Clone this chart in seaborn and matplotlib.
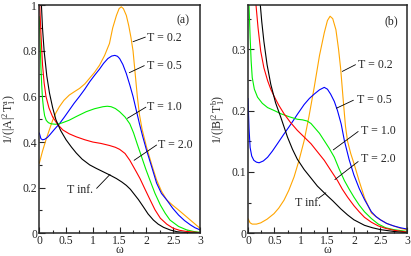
import numpy as np
import pandas as pd
import seaborn as sns
import matplotlib
matplotlib.use('Agg')
import matplotlib.pyplot as plt
from matplotlib.ticker import MultipleLocator, FuncFormatter

# panel (a): 1/(|A|^2 T1^a)
a_w_02 = [0, 0.06, 0.125, 0.19, 0.25, 0.31, 0.375, 0.46, 0.56, 0.65, 0.75, 0.85, 0.94, 1.03, 1.125, 1.22, 1.31, 1.37, 1.44, 1.49, 1.53, 1.57, 1.625, 1.67, 1.71, 1.75, 1.79, 1.83, 1.87, 1.92, 2.0, 2.1, 2.19, 2.28, 2.38, 2.49, 2.6, 2.71, 2.82, 2.91, 3.0]
a_v_02 = [0.307, 0.36, 0.41, 0.455, 0.496, 0.528, 0.555, 0.583, 0.606, 0.62, 0.635, 0.655, 0.68, 0.705, 0.737, 0.78, 0.832, 0.90, 0.955, 0.985, 0.993, 0.985, 0.955, 0.91, 0.86, 0.80, 0.70, 0.60, 0.52, 0.455, 0.38, 0.30, 0.234, 0.185, 0.146, 0.123, 0.102, 0.08, 0.058, 0.04, 0.022]
a_w_05 = [0, 0.03, 0.06, 0.1, 0.15, 0.19, 0.28, 0.375, 0.47, 0.56, 0.65, 0.75, 0.85, 0.94, 1.03, 1.125, 1.2, 1.28, 1.35, 1.41, 1.46, 1.5, 1.56, 1.625, 1.69, 1.75, 1.81, 1.87, 1.93, 2.0, 2.1, 2.19, 2.28, 2.38, 2.49, 2.6, 2.71, 2.82, 2.91, 3.0]
a_v_05 = [0.44, 0.415, 0.41, 0.412, 0.42, 0.43, 0.455, 0.48, 0.51, 0.54, 0.57, 0.60, 0.632, 0.664, 0.692, 0.72, 0.745, 0.766, 0.777, 0.78, 0.776, 0.766, 0.74, 0.70, 0.65, 0.60, 0.54, 0.48, 0.425, 0.366, 0.29, 0.22, 0.175, 0.146, 0.11, 0.08, 0.056, 0.037, 0.024, 0.015]
a_w_10 = [0, 0.015, 0.03, 0.045, 0.06, 0.08, 0.1, 0.13, 0.17, 0.22, 0.3, 0.375, 0.46, 0.56, 0.7, 0.875, 1.03, 1.19, 1.27, 1.34, 1.42, 1.5, 1.6, 1.69, 1.76, 1.83, 1.91, 1.99, 2.07, 2.16, 2.26, 2.35, 2.44, 2.6, 2.75, 2.88, 3.0]
a_v_10 = [0.95, 0.84, 0.73, 0.65, 0.59, 0.545, 0.515, 0.495, 0.485, 0.48, 0.478, 0.48, 0.487, 0.496, 0.513, 0.533, 0.546, 0.555, 0.557, 0.555, 0.547, 0.533, 0.51, 0.48, 0.44, 0.39, 0.335, 0.28, 0.23, 0.175, 0.124, 0.088, 0.058, 0.03, 0.015, 0.008, 0.004]
a_w_20 = [0, 0.01, 0.03, 0.06, 0.09, 0.125, 0.18, 0.25, 0.34, 0.44, 0.56, 0.69, 0.85, 1.0, 1.15, 1.31, 1.42, 1.5, 1.6, 1.69, 1.75, 1.81, 1.88, 1.97, 2.07, 2.16, 2.26, 2.38, 2.5, 2.62, 2.75, 3.0]
a_v_20 = [1.05, 0.99, 0.88, 0.74, 0.66, 0.60, 0.55, 0.51, 0.478, 0.453, 0.436, 0.423, 0.41, 0.40, 0.394, 0.385, 0.377, 0.368, 0.35, 0.32, 0.295, 0.27, 0.24, 0.195, 0.146, 0.103, 0.066, 0.04, 0.022, 0.013, 0.008, 0.003]
a_w_inf = [0, 0.04, 0.06, 0.09, 0.14, 0.19, 0.25, 0.31, 0.4, 0.5, 0.6, 0.69, 0.8, 0.94, 1.06, 1.19, 1.32, 1.44, 1.54, 1.625, 1.7, 1.76, 1.85, 1.94, 2.03, 2.13, 2.22, 2.32, 2.45, 2.57, 2.75, 3.0]
a_v_inf = [1.3, 1.0, 0.90, 0.80, 0.69, 0.615, 0.55, 0.498, 0.45, 0.41, 0.378, 0.352, 0.325, 0.30, 0.285, 0.27, 0.255, 0.24, 0.225, 0.21, 0.193, 0.175, 0.148, 0.117, 0.085, 0.058, 0.04, 0.026, 0.014, 0.007, 0.003, 0.001]

# panel (b): 1/(|B|^2 T1^b)
b_w_02 = [0, 0.04, 0.08, 0.16, 0.24, 0.36, 0.49, 0.58, 0.68, 0.77, 0.87, 0.96, 1.06, 1.15, 1.25, 1.35, 1.44, 1.5, 1.55, 1.6, 1.66, 1.71, 1.75, 1.8, 1.84, 1.88, 1.94, 2.0, 2.1, 2.2, 2.33, 2.42, 2.5, 2.62, 2.75, 2.88, 3.0]
b_v_02 = [0.024, 0.017, 0.015, 0.015, 0.017, 0.023, 0.032, 0.041, 0.054, 0.07, 0.092, 0.118, 0.151, 0.19, 0.238, 0.29, 0.327, 0.347, 0.354, 0.35, 0.332, 0.30, 0.268, 0.215, 0.175, 0.15, 0.13, 0.114, 0.085, 0.058, 0.033, 0.027, 0.022, 0.016, 0.012, 0.008, 0.006]
b_w_05 = [0, 0.02, 0.04, 0.07, 0.11, 0.16, 0.21, 0.29, 0.37, 0.46, 0.555, 0.68, 0.81, 0.94, 1.06, 1.16, 1.25, 1.35, 1.44, 1.5, 1.56, 1.63, 1.69, 1.76, 1.82, 1.91, 2.0, 2.1, 2.2, 2.33, 2.42, 2.5, 2.62, 2.75, 2.88, 3.0]
b_v_05 = [0.22, 0.17, 0.14, 0.126, 0.119, 0.116, 0.115, 0.118, 0.124, 0.134, 0.146, 0.162, 0.178, 0.195, 0.21, 0.22, 0.227, 0.234, 0.238, 0.235, 0.227, 0.215, 0.2, 0.178, 0.151, 0.12, 0.095, 0.073, 0.055, 0.035, 0.027, 0.022, 0.016, 0.012, 0.009, 0.007]
b_w_10 = [0, 0.02, 0.04, 0.06, 0.08, 0.12, 0.18, 0.27, 0.37, 0.5, 0.62, 0.78, 0.93, 1.03, 1.12, 1.19, 1.25, 1.35, 1.44, 1.53, 1.63, 1.72, 1.82, 1.91, 2.0, 2.1, 2.2, 2.33, 2.46, 2.6, 2.75, 3.0]
b_v_10 = [0.42, 0.37, 0.32, 0.28, 0.254, 0.235, 0.222, 0.212, 0.205, 0.2, 0.195, 0.19, 0.186, 0.185, 0.183, 0.179, 0.173, 0.163, 0.151, 0.139, 0.124, 0.105, 0.086, 0.072, 0.059, 0.046, 0.035, 0.024, 0.015, 0.009, 0.006, 0.003]
b_w_20 = [0.1, 0.145, 0.19, 0.24, 0.3, 0.37, 0.43, 0.49, 0.58, 0.68, 0.8, 0.93, 1.06, 1.19, 1.31, 1.44, 1.56, 1.69, 1.78, 1.88, 2.0, 2.1, 2.2, 2.33, 2.46, 2.6, 2.75, 3.0]
b_v_20 = [0.42, 0.378, 0.335, 0.297, 0.27, 0.249, 0.235, 0.224, 0.209, 0.195, 0.181, 0.168, 0.157, 0.146, 0.133, 0.119, 0.103, 0.086, 0.072, 0.059, 0.045, 0.035, 0.026, 0.018, 0.012, 0.008, 0.005, 0.002]
b_w_inf = [0.18, 0.227, 0.26, 0.3, 0.36, 0.43, 0.52, 0.62, 0.745, 0.84, 0.93, 1.06, 1.19, 1.31, 1.44, 1.5, 1.6, 1.75, 1.88, 2.0, 2.2, 2.35, 2.5, 2.75, 3.0]
b_v_inf = [0.43, 0.378, 0.345, 0.313, 0.275, 0.243, 0.213, 0.189, 0.157, 0.137, 0.121, 0.104, 0.09, 0.077, 0.066, 0.061, 0.053, 0.04, 0.03, 0.022, 0.013, 0.009, 0.006, 0.003, 0.001]

labels = ['T = 0.2', 'T = 0.5', 'T = 1.0', 'T = 2.0', 'T inf.']
colors = ['#ffa500', '#0000ff', '#00f000', '#ff0000', '#000000']

sns.set_style('ticks')
plt.rcParams['font.family'] = ['Liberation Serif', 'DejaVu Serif']
plt.rcParams['mathtext.fontset'] = 'custom'
plt.rcParams['mathtext.rm'] = 'Liberation Serif'
plt.rcParams['mathtext.it'] = 'Liberation Serif'
plt.rcParams['font.size'] = 8.6

fig = plt.figure(figsize=(4.11, 2.56), dpi=100)
ax_a = fig.add_axes([0.0956, 0.0887, 0.391, 0.891])
ax_b = fig.add_axes([0.6034, 0.0887, 0.3866, 0.891])

series_a = [(a_w_02, a_v_02), (a_w_05, a_v_05), (a_w_10, a_v_10), (a_w_20, a_v_20), (a_w_inf, a_v_inf)]
series_b = [(b_w_02, b_v_02), (b_w_05, b_v_05), (b_w_10, b_v_10), (b_w_20, b_v_20), (b_w_inf, b_v_inf)]

for ax, series in [(ax_a, series_a), (ax_b, series_b)]:
    for (w, v), lab, c in zip(series, labels, colors):
        df = pd.DataFrame({'w': w, 'v': v})
        sns.lineplot(data=df, x='w', y='v', ax=ax, color=c, lw=0.8, sort=False)

fmt = FuncFormatter(lambda x, p: '%g' % x)
for ax in (ax_a, ax_b):
    ax.set_xlim(0, 3)
    ax.xaxis.set_major_locator(MultipleLocator(0.5))
    ax.xaxis.set_minor_locator(MultipleLocator(0.25))
    ax.xaxis.set_major_formatter(fmt)
    ax.yaxis.set_major_formatter(fmt)
    ax.tick_params(which='both', direction='in', labelsize=8.4, width=0.8, pad=1.5)
    ax.tick_params(which='major', length=4)
    ax.tick_params(which='minor', length=2)
    for s in ax.spines.values():
        s.set_linewidth(1.1)
    ax.set_xlabel('ω', fontsize=8.5)
    ax.xaxis.set_label_coords(0.5, -0.047)

ax_a.set_ylim(0, 1)
ax_a.yaxis.set_major_locator(MultipleLocator(0.2))
ax_a.yaxis.set_minor_locator(MultipleLocator(0.1))
ax_a.set_ylabel(r'$\mathrm{1/(|A|^2\,T_1^a)}$', fontsize=8.6)
ax_a.yaxis.set_label_coords(-0.13, 0.5)

ax_b.set_ylim(0, 0.372)
ax_b.yaxis.set_major_locator(MultipleLocator(0.1))
ax_b.yaxis.set_minor_locator(MultipleLocator(0.05))
ax_b.set_ylabel(r'$\mathrm{1/(|B|^2\,T_1^b)}$', fontsize=8.6)
ax_b.yaxis.set_label_coords(-0.13, 0.5)

# annotations: (text x, text y, line start x, line start y, line end x, line end y)
ann_a = [(2.01, 0.857, 1.75, 0.84, 1.98, 0.86),
         (2.01, 0.734, 1.68, 0.704, 1.96, 0.735),
         (2.02, 0.552, 1.645, 0.504, 1.99, 0.553),
         (2.22, 0.387, 1.77, 0.32, 2.19, 0.387),
         (0.51, 0.19, 1.32, 0.258, 1.07, 0.197)]
ann_b = [(2.08, 0.275, 1.78, 0.264, 2.03, 0.275),
         (2.05, 0.218, 1.67, 0.204, 1.99, 0.217),
         (2.13, 0.167, 1.61, 0.136, 2.08, 0.166),
         (2.13, 0.121, 1.64, 0.0875, 2.08, 0.117),
         (0.89, 0.05, 1.47, 0.066, 1.33, 0.057)]
for ax, anns in [(ax_a, ann_a), (ax_b, ann_b)]:
    for (tx, ty, x0, y0, x1, y1), lab in zip(anns, labels):
        ax.plot([x0, x1], [y0, y1], color='black', lw=0.6)
        ax.text(tx, ty, lab, fontsize=8.6, ha='left', va='center')

ax_a.text(2.69, 0.935, '(a)', fontsize=8.6, ha='center', va='center')
ax_b.text(2.71, 0.346, '(b)', fontsize=8.6, ha='center', va='center')

fig.savefig('out.png', dpi=100)
